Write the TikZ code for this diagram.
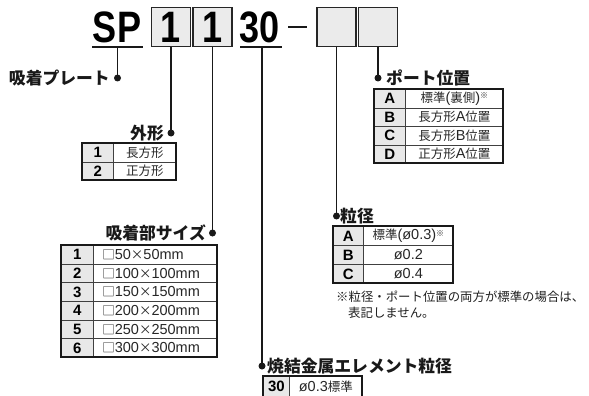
\documentclass[tikz,border=0pt]{standalone}
\usepackage{fontspec}
\usepackage{graphicx}
\setmainfont{Noto Sans CJK JP}
\newfontfamily\lat{Liberation Sans}
\newcommand\komesup{\raisebox{3.5pt}{\fontsize{8}{8}\selectfont ※}}
\newcommand\lt[1]{{\lat\fontsize{14.5}{14.5}\selectfont #1}}
\tikzset{
  codebox/.style={draw=black!85, line width=1.5pt, fill=black!8, minimum width=39pt, minimum height=39pt, inner sep=0pt, font=\lat\bfseries\fontsize{44}{44}\selectfont},
  codetext/.style={inner sep=0pt, font=\lat\bfseries\fontsize{44}{44}\selectfont},
  dotnode/.style={circle, fill=black!90, inner sep=0pt, minimum size=7pt},
  conn/.style={draw=black!90, line width=1.3pt},
  head/.style={font=\bfseries\fontsize{16.8}{16.8}\selectfont, inner sep=0pt, text=black!90},
  numcell/.style={draw=black!75, line width=0.7pt, fill=black!9, inner sep=0pt, anchor=north west, font=\lat\bfseries\fontsize{15}{15}\selectfont},
  valcell/.style={draw=black!75, line width=0.7pt, inner sep=0pt, anchor=north west, font=\fontsize{12.5}{12.5}\selectfont, text=black!85},
  leftcell/.style={valcell, inner xsep=9pt, text width=106pt, align=left},
  notetext/.style={inner sep=0pt, anchor=west, font=\fontsize{12.4}{12.4}\selectfont, text=black!88},
}
% #1 name, #2 left, #3 divider, #4 right, #5 top, #6 row height, #7 value style, #8 rows, #9 row count
\newcommand\jtab[9]{%
  \foreach \k/\v [count=\i] in {#8}{%
    \node[numcell, minimum width={(#3-#2)*1pt}, minimum height={#6*1pt}] (#1-\i-k) at (#2,{#5+(\i-1)*#6}) {\k};
    \node[#7, minimum width={(#4-#3)*1pt}, minimum height={#6*1pt}] (#1-\i-v) at (#3,{#5+(\i-1)*#6}) {\v};
  }
  \draw[line width=1.1pt, draw=black!90] (#2,#5) rectangle (#4,{#5+#9*#6});
}
\begin{document}
\begin{tikzpicture}[x=1pt, y=-1pt]
\useasboundingbox (0,0) rectangle (589,396);
\clip (0,0) rectangle (589,396);

% header code
\node[codetext, anchor=base] (sp) at (117,43) {\scalebox{0.82}[1]{SP}};
\node[codebox] (b1) at (171,27) {\scalebox{0.82}[1]{1}};
\node[codebox] (b2) at (212.5,27) {\scalebox{0.82}[1]{1}};
\node[codetext, anchor=base] (n30) at (260,43) {\scalebox{0.82}[1]{30}};
\draw[line width=2.6pt, draw=black!90] (288,27) -- (307,27);
\node[codebox] (b3) at (336.5,27) {};
\node[codebox] (b4) at (378,27) {};
\draw[line width=1.5pt, draw=black!90] (92,47) -- (143,47);
\draw[line width=1.5pt, draw=black!90] (240,47) -- (282,47);
\coordinate (u1) at (117.5,47);
\coordinate (u2) at (262,47);

% dots
\node[dotnode] (d1) at (117.5,78) {};
\node[dotnode] (d2) at (171,133) {};
\node[dotnode] (d3) at (212.5,233) {};
\node[dotnode] (d4) at (262,366) {};
\node[dotnode] (d5) at (336.5,216) {};
\node[dotnode] (d6) at (378,78) {};

% connectors
\draw[conn] (u1) -- (d1.center);
\draw[conn] (b1.south) -- (d2.center);
\draw[conn] (b2.south) -- (d3.center);
\draw[conn] (u2) -- (d4.center);
\draw[conn] (b3.south) -- (d5.center);
\draw[conn] (b4.south) -- (d6.center);

% headings
\node[head, anchor=east] (t1) at (110,78) {吸着プレート};
\node[head, anchor=east] (t2) at (164,133) {外形};
\node[head, anchor=east] (t3) at (206,233) {吸着部サイズ};
\node[head, anchor=west] (t4) at (267,366) {焼結金属エレメント粒径};
\node[head, anchor=west] (t5) at (340,216) {粒径};
\node[head, anchor=west] (t6) at (386,78) {ポート位置};

% tables
\jtab{gk}{82}{113}{176}{143}{18.5}{valcell}{1/長方形, 2/正方形}{2}
\jtab{sz}{61}{93}{217}{245}{18.67}{leftcell}{1/{□\lt{50}×\lt{50mm}}, 2/{□\lt{100}×\lt{100mm}}, 3/{□\lt{150}×\lt{150mm}}, 4/{□\lt{200}×\lt{200mm}}, 5/{□\lt{250}×\lt{250mm}}, 6/{□\lt{300}×\lt{300mm}}}{6}
\jtab{pt}{374}{405}{503}{89}{18.5}{valcell}{A/{標準\lt{(}裏側\lt{)}\komesup}, B/{長方形\lt{A}位置}, C/{長方形\lt{B}位置}, D/{正方形\lt{A}位置}}{4}
\jtab{rk}{333}{363}{453}{226}{19}{valcell}{A/{標準\lt{(ø0.3)}\komesup}, B/{\lt{ø0.2}}, C/{\lt{ø0.4}}}{3}
\jtab{el}{263}{289}{362}{376}{20.5}{valcell}{30/{\lt{ø0.3}標準}}{1}

% note
\node[notetext] (nt1) at (336,297) {※粒径・ポート位置の両方が標準の場合は、};
\node[notetext] (nt2) at (348,313) {表記しません。};
\end{tikzpicture}
\end{document}
